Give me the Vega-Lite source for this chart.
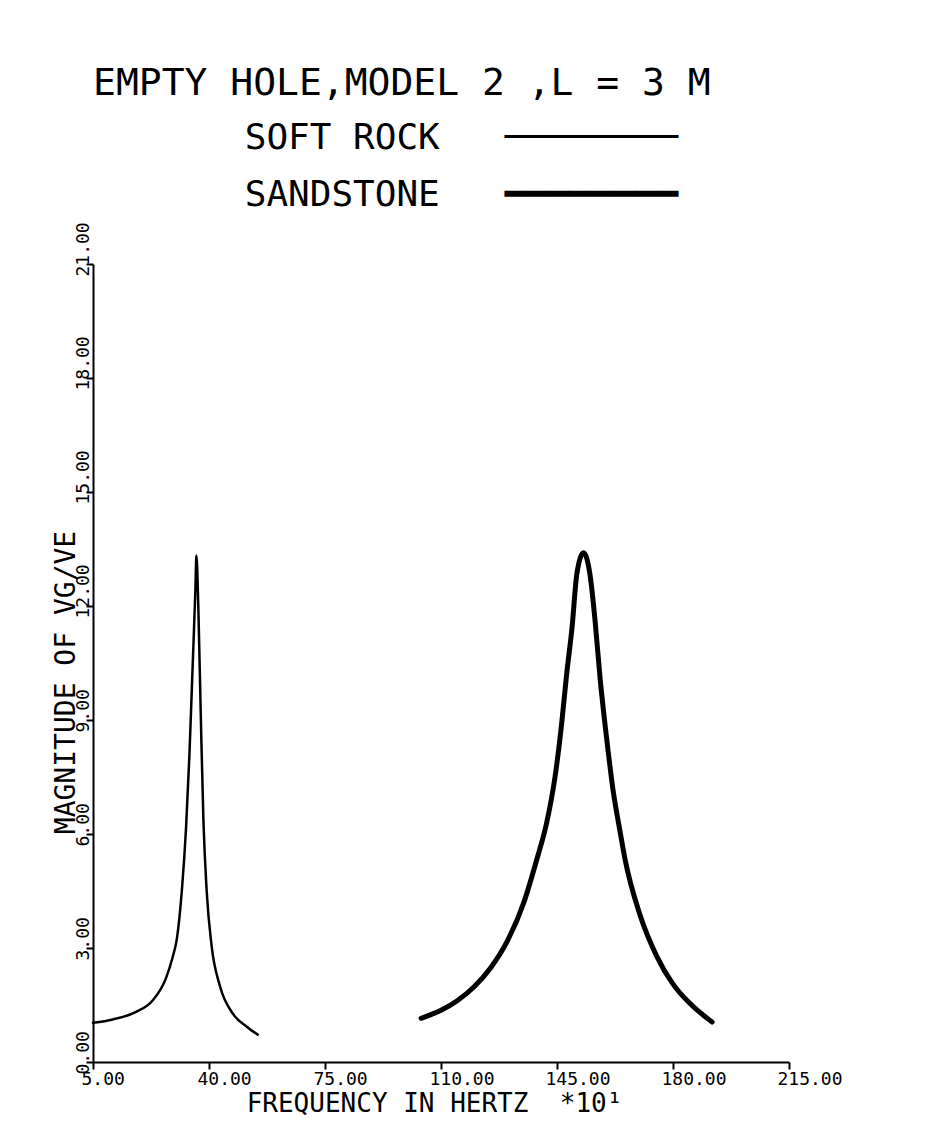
{
  "$schema": "https://vega.github.io/schema/vega-lite/v6.json",
  "width": 696,
  "height": 798,
  "autosize": {"type": "none"},
  "padding": {"left": 93, "top": 264, "right": 136, "bottom": 82},
  "background": "white",
  "title": {
    "text": "EMPTY HOLE,MODEL 2 ,L = 3 M",
    "subtitle": ["\u200b\u00a0\u00a0\u00a0\u00a0\u00a0\u00a0\u00a0SOFT\u00a0ROCK\u00a0\u00a0\u00a0\u2500\u2500\u2500\u2500\u2500\u2500\u2500\u2500", "\u200b\u00a0\u00a0\u00a0\u00a0\u00a0\u00a0\u00a0SANDSTONE\u00a0\u00a0\u00a0\u2501\u2501\u2501\u2501\u2501\u2501\u2501\u2501"],
    "anchor": "start",
    "frame": "group",
    "font": "DejaVu Sans Mono",
    "fontSize": 38,
    "fontWeight": "normal",
    "color": "black",
    "subtitleFont": "DejaVu Sans Mono",
    "subtitleFontSize": 36,
    "subtitleFontWeight": "normal",
    "subtitleColor": "black",
    "subtitleLineHeight": 57,
    "subtitlePadding": 18,
    "offset": 9
  },
  "data": {
    "values": [
      {"f": 5, "m": 1.03, "rock": "SOFT ROCK"},
      {"f": 11, "m": 1.12, "rock": "SOFT ROCK"},
      {"f": 18, "m": 1.32, "rock": "SOFT ROCK"},
      {"f": 23, "m": 1.62, "rock": "SOFT ROCK"},
      {"f": 27, "m": 2.2, "rock": "SOFT ROCK"},
      {"f": 29, "m": 2.75, "rock": "SOFT ROCK"},
      {"f": 30.3, "m": 3.24, "rock": "SOFT ROCK"},
      {"f": 31.8, "m": 4.5, "rock": "SOFT ROCK"},
      {"f": 33.1, "m": 6.2, "rock": "SOFT ROCK"},
      {"f": 34.1, "m": 8.1, "rock": "SOFT ROCK"},
      {"f": 35.1, "m": 10.5, "rock": "SOFT ROCK"},
      {"f": 35.9, "m": 12.45, "rock": "SOFT ROCK"},
      {"f": 36.2, "m": 13.33, "rock": "SOFT ROCK"},
      {"f": 36.8, "m": 11.9, "rock": "SOFT ROCK"},
      {"f": 37.5, "m": 9.2, "rock": "SOFT ROCK"},
      {"f": 38.3, "m": 6.4, "rock": "SOFT ROCK"},
      {"f": 39.3, "m": 4.5, "rock": "SOFT ROCK"},
      {"f": 40.8, "m": 3.05, "rock": "SOFT ROCK"},
      {"f": 43.3, "m": 2.0, "rock": "SOFT ROCK"},
      {"f": 47.3, "m": 1.26, "rock": "SOFT ROCK"},
      {"f": 51.4, "m": 0.93, "rock": "SOFT ROCK"},
      {"f": 54.7, "m": 0.72, "rock": "SOFT ROCK"},
      {"f": 104, "m": 1.15, "rock": "SANDSTONE"},
      {"f": 110, "m": 1.36, "rock": "SANDSTONE"},
      {"f": 115, "m": 1.62, "rock": "SANDSTONE"},
      {"f": 120, "m": 1.98, "rock": "SANDSTONE"},
      {"f": 125, "m": 2.48, "rock": "SANDSTONE"},
      {"f": 130, "m": 3.18, "rock": "SANDSTONE"},
      {"f": 135, "m": 4.2, "rock": "SANDSTONE"},
      {"f": 138.9, "m": 5.33, "rock": "SANDSTONE"},
      {"f": 141.9, "m": 6.3, "rock": "SANDSTONE"},
      {"f": 144.4, "m": 7.5, "rock": "SANDSTONE"},
      {"f": 146.4, "m": 8.9, "rock": "SANDSTONE"},
      {"f": 147.9, "m": 10.2, "rock": "SANDSTONE"},
      {"f": 149.5, "m": 11.4, "rock": "SANDSTONE"},
      {"f": 151, "m": 12.85, "rock": "SANDSTONE"},
      {"f": 153, "m": 13.4, "rock": "SANDSTONE"},
      {"f": 155, "m": 12.8, "rock": "SANDSTONE"},
      {"f": 156.5, "m": 11.6, "rock": "SANDSTONE"},
      {"f": 158, "m": 10.1, "rock": "SANDSTONE"},
      {"f": 160, "m": 8.5, "rock": "SANDSTONE"},
      {"f": 162, "m": 7.1, "rock": "SANDSTONE"},
      {"f": 164, "m": 6.08, "rock": "SANDSTONE"},
      {"f": 165.5, "m": 5.35, "rock": "SANDSTONE"},
      {"f": 170, "m": 3.88, "rock": "SANDSTONE"},
      {"f": 175, "m": 2.8, "rock": "SANDSTONE"},
      {"f": 180, "m": 2.05, "rock": "SANDSTONE"},
      {"f": 185, "m": 1.55, "rock": "SANDSTONE"},
      {"f": 191.8, "m": 1.05, "rock": "SANDSTONE"}
    ]
  },
  "mark": {"type": "line", "interpolate": "monotone", "color": "black", "strokeCap": "round", "strokeJoin": "round"},
  "encoding": {
    "x": {
      "field": "f",
      "type": "quantitative",
      "scale": {"domain": [5, 215], "nice": false, "zero": false},
      "axis": {
        "values": [5, 40, 75, 110, 145, 180, 215],
        "format": ".2f",
        "grid": false,
        "domainColor": "black",
        "domainWidth": 2,
        "tickColor": "black",
        "tickWidth": 2,
        "tickSize": 7,
        "labelFont": "DejaVu Sans Mono",
        "labelFontSize": 18,
        "labelColor": "black",
        "labelAlign": "left",
        "labelBaseline": "top",
        "labelOffset": -12,
        "labelPadding": 1,
        "labelFlush": false,
        "labelOverlap": false,
        "title": "FREQUENCY IN HERTZ\u00a0\u00a0*10\u00b9",
        "titleFont": "DejaVu Sans Mono",
        "titleFontSize": 26,
        "titleFontWeight": "normal",
        "titleColor": "black",
        "titleAlign": "center",
        "titleBaseline": "alphabetic",
        "titleX": 341,
        "titleY": 49
      }
    },
    "y": {
      "field": "m",
      "type": "quantitative",
      "scale": {"domain": [0, 21], "nice": false},
      "axis": {
        "values": [0, 3, 6, 9, 12, 15, 18, 21],
        "format": ".2f",
        "grid": false,
        "domainColor": "black",
        "domainWidth": 2,
        "tickColor": "black",
        "tickWidth": 2,
        "tickSize": 7,
        "labelFont": "DejaVu Sans Mono",
        "labelFontSize": 18,
        "labelColor": "black",
        "labelAngle": 270,
        "labelAlign": "left",
        "labelBaseline": "alphabetic",
        "labelOffset": 12,
        "labelPadding": -2,
        "labelFlush": false,
        "labelOverlap": false,
        "title": "MAGNITUDE OF VG/VE",
        "titleFont": "DejaVu Sans Mono",
        "titleFontSize": 28,
        "titleFontWeight": "normal",
        "titleColor": "black",
        "titleAngle": 270,
        "titleAlign": "center",
        "titleBaseline": "alphabetic",
        "titleX": -19,
        "titleY": 418
      }
    },
    "strokeWidth": {
      "field": "rock",
      "type": "nominal",
      "scale": {"domain": ["SOFT ROCK", "SANDSTONE"], "range": [2.5, 5]},
      "legend": null
    }
  },
  "config": {"view": {"stroke": null}}
}
